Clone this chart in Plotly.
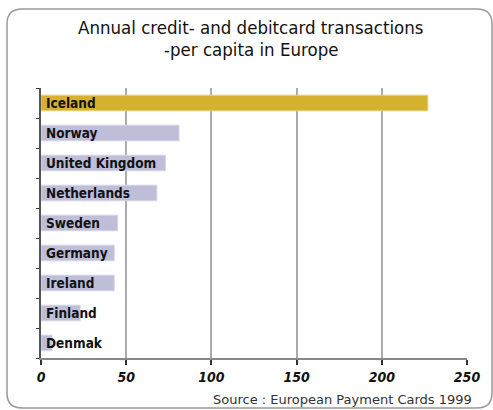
import plotly.graph_objects as go

countries = ["Iceland", "Norway", "United Kingdom", "Netherlands", "Sweden",
             "Germany", "Ireland", "Finland", "Denmak"]
transactions = [227, 81, 73, 68, 45, 43, 43, 23, 6.5]
highlight = "Iceland"
x_ticks = [0, 50, 100, 150, 200, 250]
title_lines = ["Annual credit- and debitcard transactions", "-per capita in Europe"]
source_text = "Source : European Payment Cards 1999"

W, H = 493, 410
L, R, T, B = 41, 26, 88, 52
pw, ph = W - L - R, H - T - B

def px(xp):
    return (xp - L) / pw
def py(yp):
    return (H - B - yp) / ph

colors = ["#D4B22F" if c == highlight else "#BEBED9" for c in countries]
line_colors = ["#E6CF7A" if c == highlight else "#D6D6E8" for c in countries]

COND = "DejaVu Sans Condensed, DejaVu Sans, sans-serif"

fig = go.Figure()
fig.add_trace(go.Bar(
    x=transactions, y=countries, orientation="h",
    marker=dict(color=colors, line=dict(color=line_colors, width=1)),
    width=0.52, hoverinfo="x+y",
))

for c in countries:
    fig.add_annotation(x=0, y=c, xref="x", yref="y", text=c, showarrow=False,
                       xanchor="left", yanchor="middle", xshift=3,
                       font=dict(family=COND, size=13.5, color="#111111", weight="bold"))

fig.add_annotation(x=px(251), y=py(28), xref="paper", yref="paper",
                   text=title_lines[0], showarrow=False, xanchor="center", yanchor="middle",
                   font=dict(family=COND, size=18.5, color="#111111"))
fig.add_annotation(x=px(251), y=py(49), xref="paper", yref="paper",
                   text=title_lines[1], showarrow=False, xanchor="center", yanchor="middle",
                   font=dict(family=COND, size=18.5, color="#111111"))
fig.add_annotation(x=px(474), y=py(400), xref="paper", yref="paper",
                   text=source_text, showarrow=False, xanchor="right", yanchor="middle",
                   font=dict(family="DejaVu Sans, sans-serif", size=13, color="#333333"))

x0, x1, y0, y1, r = 7, 492, 9, 408, 15
path = (f"M {px(x0)},{py(y0 + r)} Q {px(x0)},{py(y0)} {px(x0 + r)},{py(y0)} "
        f"L {px(x1 - r)},{py(y0)} Q {px(x1)},{py(y0)} {px(x1)},{py(y0 + r)} "
        f"L {px(x1)},{py(y1 - r)} Q {px(x1)},{py(y1)} {px(x1 - r)},{py(y1)} "
        f"L {px(x0 + r)},{py(y1)} Q {px(x0)},{py(y1)} {px(x0)},{py(y1 - r)} Z")
fig.add_shape(type="path", path=path, xref="paper", yref="paper",
              line=dict(color="#999999", width=1.5), layer="below")

fig.update_layout(
    width=W, height=H, margin=dict(l=L, r=R, t=T, b=B, autoexpand=False),
    paper_bgcolor="white", plot_bgcolor="white", showlegend=False,
)
fig.update_xaxes(range=[0, 250], tickvals=x_ticks, showgrid=True, gridcolor="#ABABAB", gridwidth=1.5,
                 showline=True, linecolor="#888888", linewidth=1.5, ticks="outside", ticklen=5,
                 tickcolor="#333333", tickwidth=1.5, zeroline=False, fixedrange=True,
                 tickfont=dict(family=COND, size=14, color="#111111", weight="bold", style="italic"))
fig.update_yaxes(categoryorder="array", categoryarray=countries[::-1], showticklabels=False,
                 showline=True, linecolor="#555555", linewidth=1.5, ticks="outside", ticklen=3,
                 tickson="boundaries", tickcolor="#333333", tickwidth=1, showgrid=False, fixedrange=True)

fig.write_html("out.html", config={"displayModeBar": False},
               post_script="document.body.style.margin='0';document.body.style.overflow='hidden';")
